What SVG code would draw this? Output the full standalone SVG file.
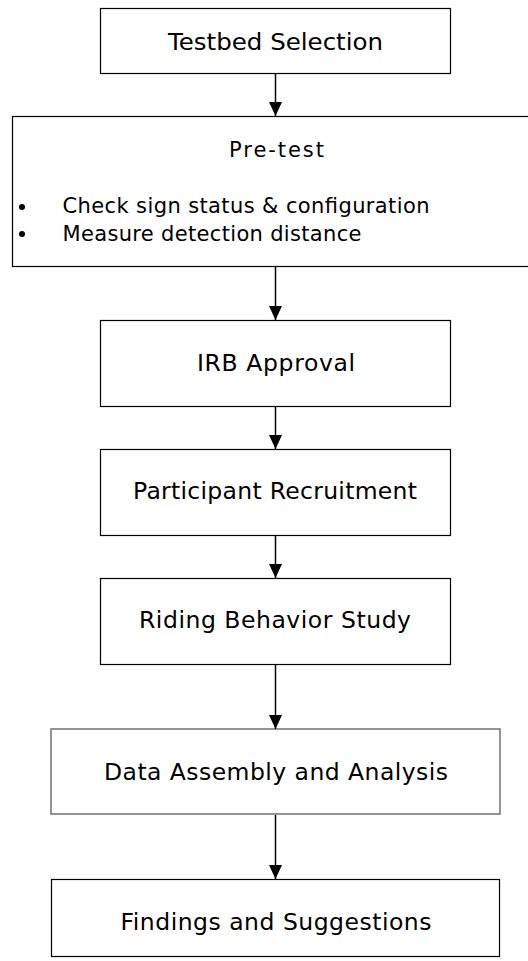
<svg xmlns="http://www.w3.org/2000/svg" width="528" height="961" viewBox="0 0 528 961">
  <style>
    .box { fill: #ffffff; stroke: #000000; stroke-width: 1.2; }
    .grey { stroke: #7a7a7a; stroke-width: 1.6; }
    .lbl { font-family: "DejaVu Sans", Verdana, sans-serif; font-size: 23.5px; fill: #000000; }
    .sm { font-size: 21px; }
    .mid { text-anchor: middle; }
    .conn { stroke: #000000; stroke-width: 1.5; fill: none; marker-end: url(#arrow); }
  </style>
  <defs>
    <marker id="arrow" viewBox="0 0 14 13" refX="14" refY="6.5" markerWidth="14" markerHeight="13" markerUnits="userSpaceOnUse" orient="auto">
      <path d="M0,0 L14,6.5 L0,13 Z" fill="#000000"/>
    </marker>
  </defs>
  <rect width="528" height="961" fill="#ffffff"/>

  <g id="node-testbed">
    <rect class="box" x="100.5" y="8.5" width="350" height="65"/>
    <text class="lbl mid" x="275.5" y="50" textLength="215" lengthAdjust="spacingAndGlyphs">Testbed Selection</text>
  </g>

  <g id="node-pretest">
    <rect class="box" x="12.5" y="116.5" width="530" height="150"/>
    <text class="lbl sm mid" x="276.5" y="156.5" textLength="95" lengthAdjust="spacing">Pre-test</text>
    <circle cx="22" cy="207" r="3" fill="#000000"/>
    <text class="lbl sm" x="62.5" y="213.4" textLength="367" lengthAdjust="spacing">Check sign status &amp; configuration</text>
    <circle cx="22" cy="234" r="3" fill="#000000"/>
    <text class="lbl sm" x="62.5" y="240.6" textLength="299" lengthAdjust="spacing">Measure detection distance</text>
  </g>

  <g id="node-irb">
    <rect class="box" x="100.5" y="320.5" width="350" height="86"/>
    <text class="lbl mid" x="276" y="371" textLength="158" lengthAdjust="spacing">IRB Approval</text>
  </g>

  <g id="node-participant">
    <rect class="box" x="100.5" y="449.5" width="350" height="86"/>
    <text class="lbl mid" x="275" y="499" textLength="284" lengthAdjust="spacing">Participant Recruitment</text>
  </g>

  <g id="node-riding">
    <rect class="box" x="100.5" y="578.5" width="350" height="86"/>
    <text class="lbl mid" x="275" y="628" textLength="272" lengthAdjust="spacing">Riding Behavior Study</text>
  </g>

  <g id="node-data">
    <rect class="box grey" x="51" y="729" width="449" height="85"/>
    <text class="lbl mid" x="276" y="780" textLength="344" lengthAdjust="spacing">Data Assembly and Analysis</text>
  </g>

  <g id="node-findings">
    <rect class="box" x="51.5" y="879.5" width="448" height="77"/>
    <text class="lbl mid" x="276" y="930" textLength="311" lengthAdjust="spacing">Findings and Suggestions</text>
  </g>

  <g id="connectors">
    <line class="conn" x1="275.5" y1="74" x2="275.5" y2="116"/>
    <line class="conn" x1="275.5" y1="267" x2="275.5" y2="320"/>
    <line class="conn" x1="275.5" y1="407" x2="275.5" y2="449"/>
    <line class="conn" x1="275.5" y1="536" x2="275.5" y2="578"/>
    <line class="conn" x1="275.5" y1="665" x2="275.5" y2="729"/>
    <line class="conn" x1="275.5" y1="815" x2="275.5" y2="879"/>
  </g>
</svg>
